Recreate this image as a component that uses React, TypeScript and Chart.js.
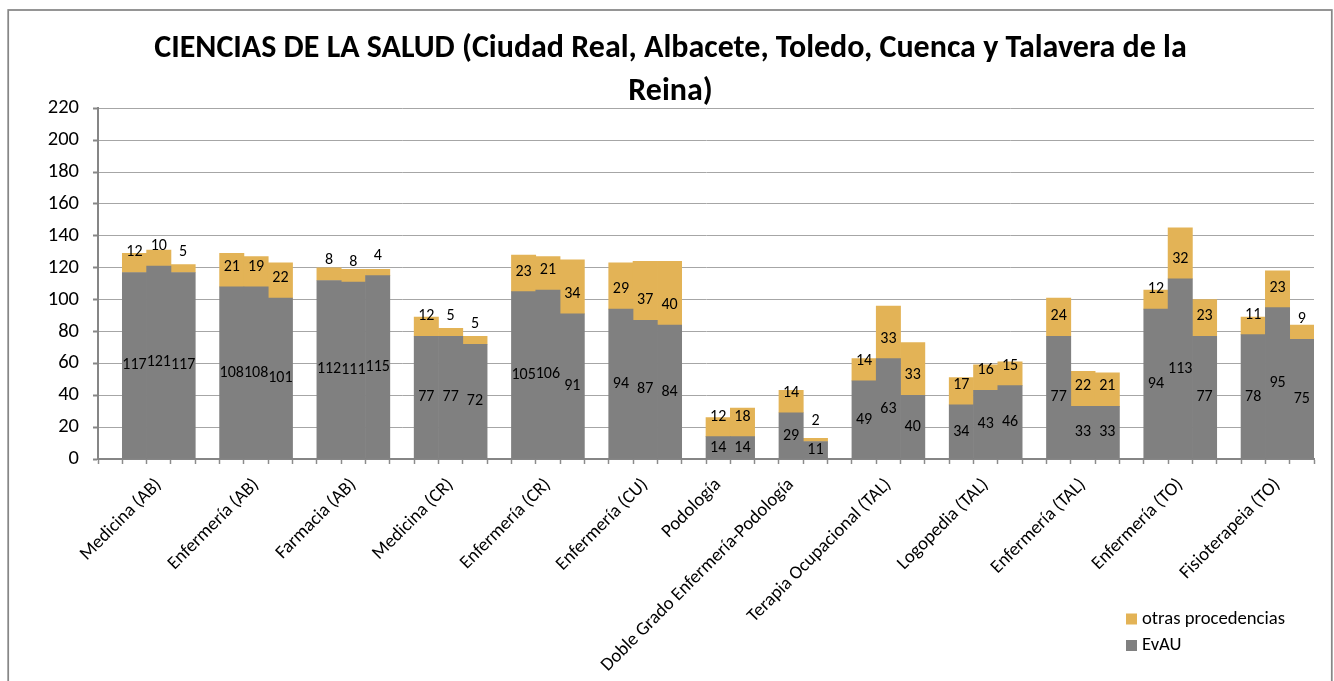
import React, { useEffect, useRef } from 'react';
import { Chart, registerables } from 'chart.js';

Chart.register(...registerables);

// ---------------- data ----------------
const categories = [
  'Medicina (AB)',
  'Enfermería (AB)',
  'Farmacia (AB)',
  'Medicina (CR)',
  'Enfermería (CR)',
  'Enfermería (CU)',
  'Podología',
  'Doble Grado Enfermería-Podología',
  'Terapia Ocupacional (TAL)',
  'Logopedia (TAL)',
  'Enfermería (TAL)',
  'Enfermería (TO)',
  'Fisioterapeia (TO)',
];

const evauValues = [
  [117, 121, 117],
  [108, 108, 101],
  [112, 111, 115],
  [77, 77, 72],
  [105, 106, 91],
  [94, 87, 84],
  [14, 14],
  [29, 11],
  [49, 63, 40],
  [34, 43, 46],
  [77, 33, 33],
  [94, 113, 77],
  [78, 95, 75],
];

const otrasValues = [
  [12, 10, 5],
  [21, 19, 22],
  [8, 8, 4],
  [12, 5, 5],
  [23, 21, 34],
  [29, 37, 40],
  [12, 18],
  [14, 2],
  [14, 33, 33],
  [17, 16, 15],
  [24, 22, 21],
  [12, 32, 23],
  [11, 23, 9],
];

const seriesNames = ['EvAU', 'otras procedencias'];
const titleLines = [
  'CIENCIAS DE LA SALUD (Ciudad Real, Albacete, Toledo, Cuenca y Talavera de la',
  'Reina)',
];
const yMin = 0;
const yMax = 220;
const yStep = 20;

// ---------------- styles ----------------
const FONT = 'Carlito, Calibri, Lato, sans-serif';
const GRAY = '#808080';
const GOLD = '#E3B356';

// build slot layout: blank slot, then bars of each group separated by a blank slot
const slotLabels: string[] = [''];
const evauSlots: (number | null)[] = [null];
const otrasSlots: (number | null)[] = [null];
categories.forEach((cat, g) => {
  if (g > 0) {
    slotLabels.push('');
    evauSlots.push(null);
    otrasSlots.push(null);
  }
  const n = evauValues[g].length;
  const labelAt = Math.floor((n - 1) / 2);
  for (let i = 0; i < n; i++) {
    slotLabels.push(i === labelAt ? cat : '');
    evauSlots.push(evauValues[g][i]);
    otrasSlots.push(otrasValues[g][i]);
  }
});

const framePlugin = {
  id: 'frame',
  beforeDraw(chart: any) {
    const ctx = chart.ctx;
    ctx.save();
    ctx.fillStyle = '#ffffff';
    ctx.fillRect(0, 0, chart.width, chart.height);
    ctx.strokeStyle = '#878787';
    ctx.lineWidth = 1.75;
    ctx.strokeRect(8.2, 10, 1323.6, 700);
    ctx.restore();
  },
};

const dataLabelPlugin = {
  id: 'dataLabels',
  afterDatasetsDraw(chart: any) {
    const ctx = chart.ctx;
    ctx.save();
    ctx.font = `16px ${FONT}`;
    ctx.fillStyle = '#000';
    ctx.textAlign = 'center';
    ctx.textBaseline = 'middle';
    chart.data.datasets.forEach((ds: any, di: number) => {
      const meta = chart.getDatasetMeta(di);
      meta.data.forEach((bar: any, i: number) => {
        const v = ds.data[i];
        if (v == null) return;
        const { x, y, base } = bar.getProps(['x', 'y', 'base'], true);
        const ly = di === 0 ? (y + base) / 2 : base - 20;
        ctx.fillText(String(v), x, ly);
      });
    });
    ctx.restore();
  },
};

const legendPlugin = {
  id: 'customLegend',
  afterDraw(chart: any) {
    const ctx = chart.ctx;
    const ds = chart.data.datasets;
    const items = [ds[1], ds[0]];
    ctx.save();
    ctx.font = `18.67px ${FONT}`;
    ctx.textAlign = 'left';
    ctx.textBaseline = 'middle';
    items.forEach((d: any, k: number) => {
      const cy = 619 + k * 26.5;
      ctx.fillStyle = d.backgroundColor;
      ctx.fillRect(1126, cy - 5.5, 11, 11);
      ctx.fillStyle = '#000';
      ctx.fillText(d.label, 1142, cy);
    });
    ctx.restore();
  },
};

export default function App() {
  const canvasRef = useRef<HTMLCanvasElement | null>(null);

  useEffect(() => {
    if (!canvasRef.current) return;
    const chart = new Chart(canvasRef.current, {
      type: 'bar',
      data: {
        labels: slotLabels,
        datasets: [
          {
            label: seriesNames[0],
            data: evauSlots,
            backgroundColor: GRAY,
            borderWidth: 0,
            barPercentage: 1,
            categoryPercentage: 1,
          },
          {
            label: seriesNames[1],
            data: otrasSlots,
            backgroundColor: GOLD,
            borderWidth: 0,
            barPercentage: 1,
            categoryPercentage: 1,
          },
        ],
      },
      options: {
        responsive: false,
        animation: false,
        devicePixelRatio: 1,
        layout: { padding: { left: 27, right: 20, top: 0, bottom: 0 } },
        plugins: {
          legend: { display: false },
          tooltip: { enabled: false },
          title: {
            display: true,
            text: titleLines,
            color: '#000',
            font: { family: FONT, size: 32, weight: 'bold', lineHeight: 43.5 / 32 },
            padding: { top: 27, bottom: -5.7 },
          },
        },
        scales: {
          x: {
            stacked: true,
            offset: true,
            afterFit: (s: any) => { s.height = 222; },
            grid: {
              display: true,
              offset: true,
              drawOnChartArea: false,
              drawTicks: true,
              tickLength: 5,
              tickColor: '#8c8c8c',
              tickWidth: 1.5,
            },
            border: { display: true, color: '#868686', width: 2 },
            ticks: {
              autoSkip: false,
              maxRotation: 45,
              minRotation: 45,
              padding: 10,
              color: '#000',
              font: { family: FONT, size: 18.67 },
            },
          },
          y: {
            stacked: true,
            min: yMin,
            max: yMax,
            afterFit: (s: any) => { s.width = 71; },
            grid: {
              color: '#a6a6a6',
              lineWidth: 1,
              drawTicks: true,
              tickLength: 5,
              tickColor: '#868686',
              tickWidth: 2,
            },
            border: { display: true, color: '#868686', width: 2 },
            ticks: {
              stepSize: yStep,
              padding: 14,
              color: '#000',
              font: { family: FONT, size: 20.5 },
            },
          },
        },
      },
      plugins: [framePlugin, dataLabelPlugin, legendPlugin],
    } as any);
    return () => chart.destroy();
  }, []);

  return (
    <div style={{ position: 'fixed', left: 0, top: 0, width: 1334, height: 681 }}>
      <canvas ref={canvasRef} width={1334} height={681} style={{ display: 'block' }} />
    </div>
  );
}
